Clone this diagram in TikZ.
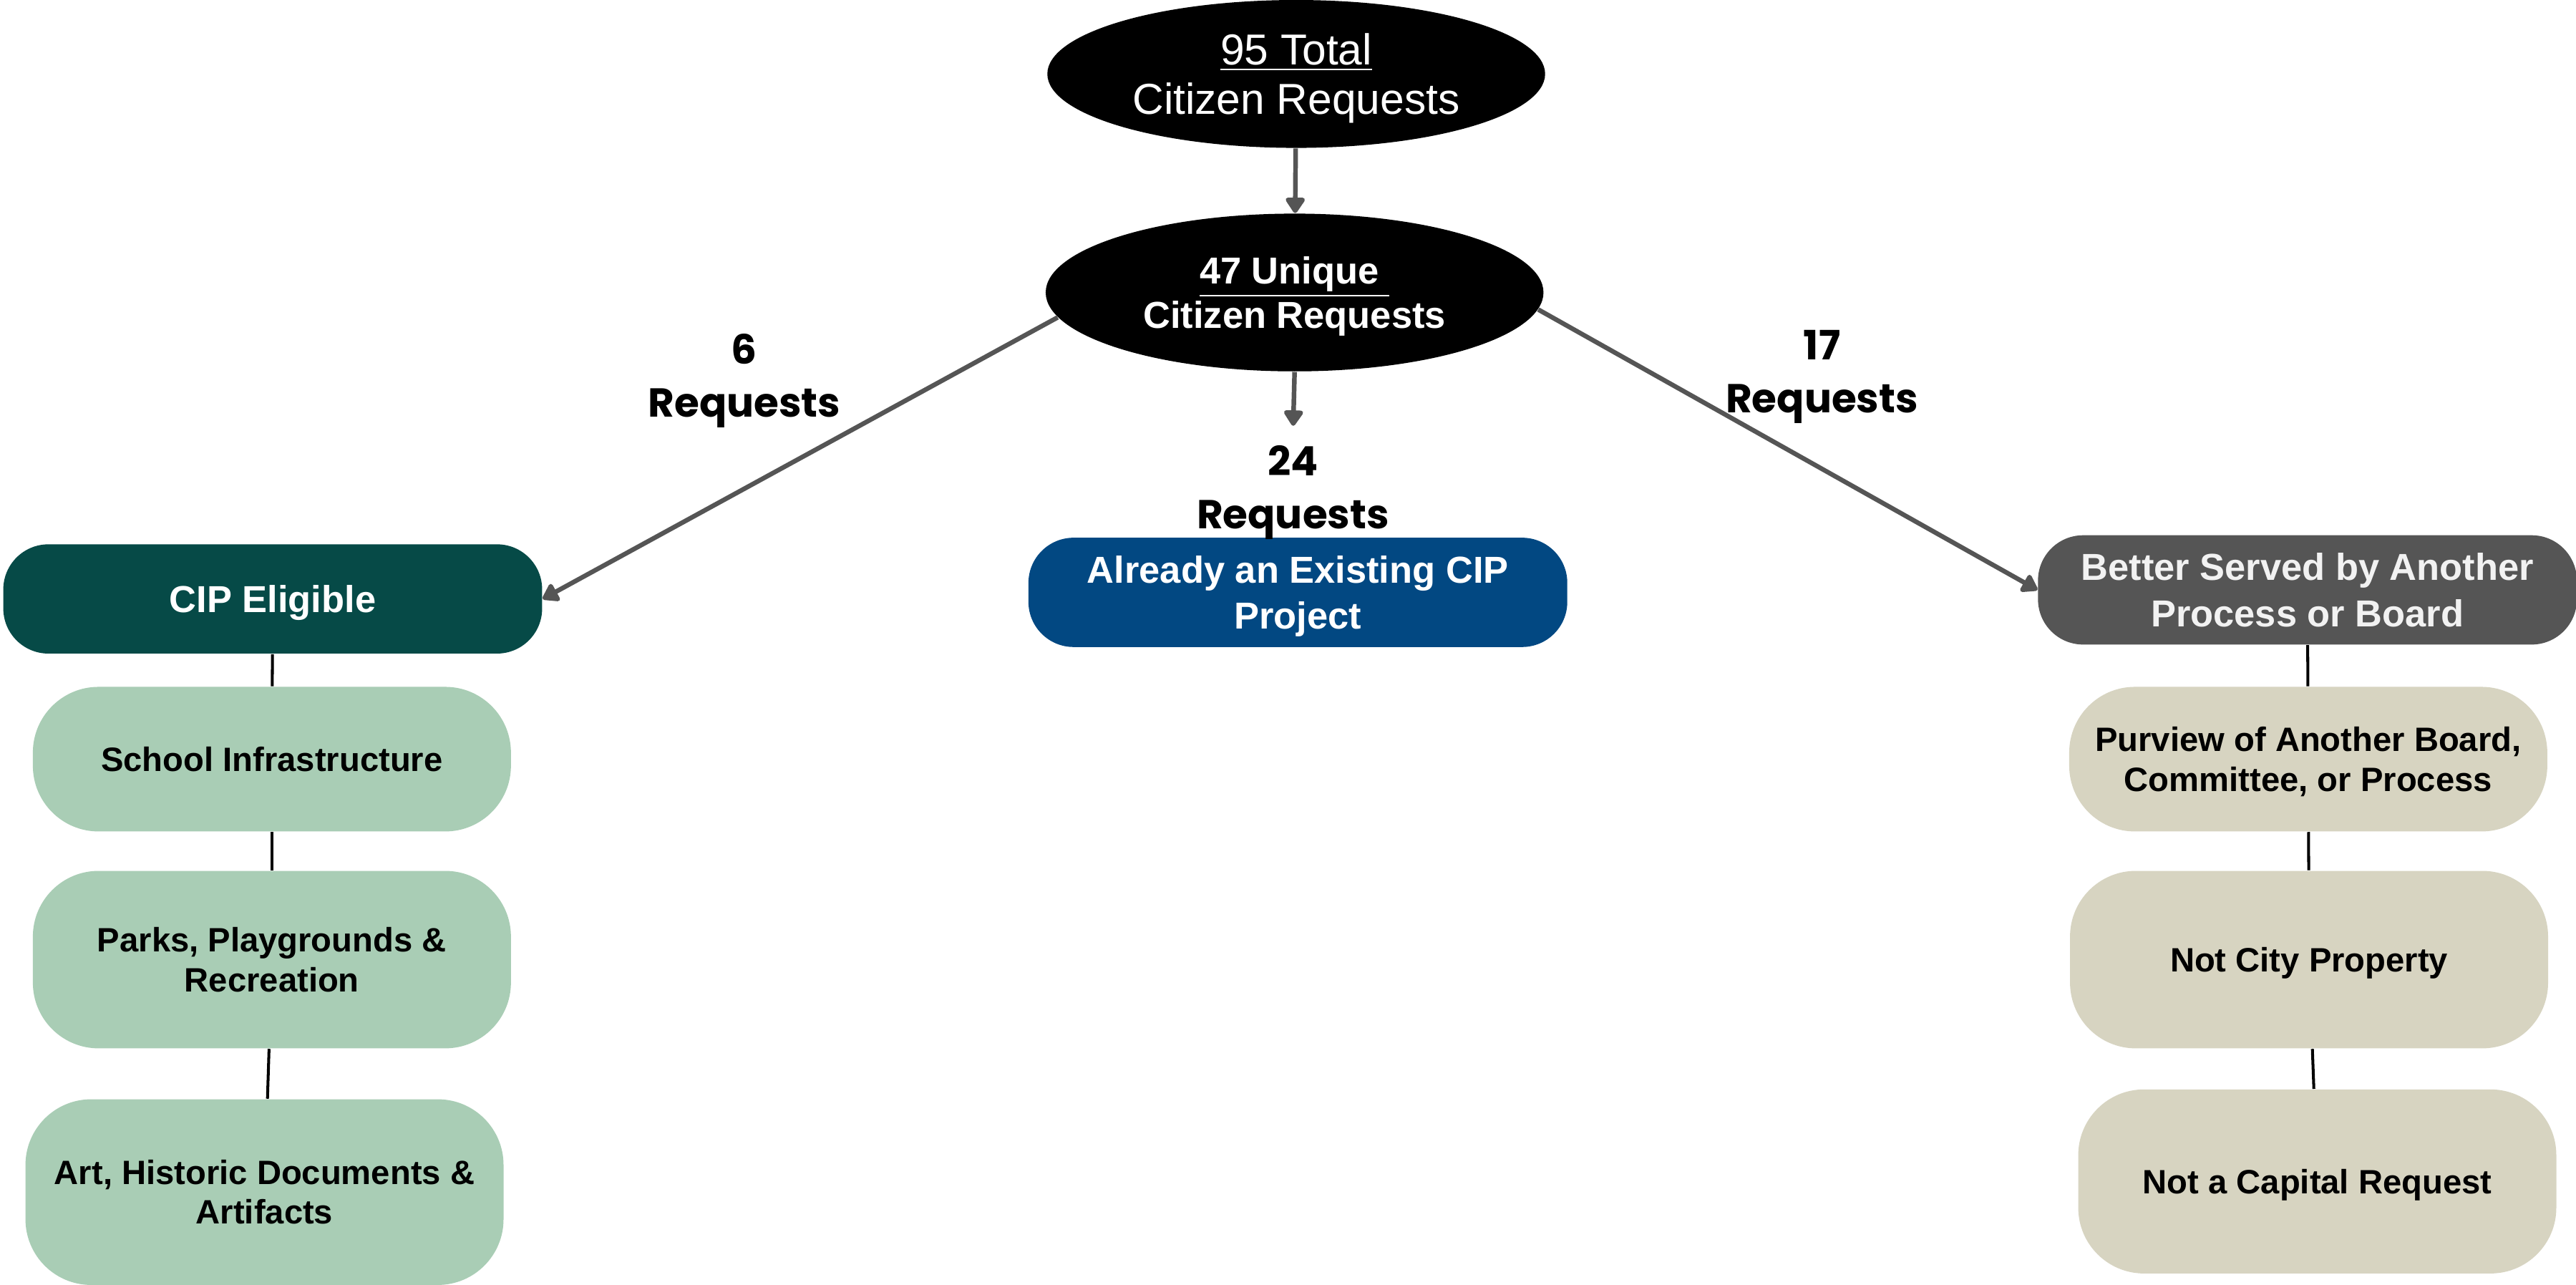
\documentclass[tikz,border=0pt]{standalone}
\usepackage{fontspec}
\setmainfont{Liberation Sans}
\newfontfamily\popfont{Poppins}
\usepackage{tikz}
\usetikzlibrary{arrows.meta,shapes.geometric}

\definecolor{cipteal}{HTML}{064A47}
\definecolor{cipmint}{HTML}{A9CDB5}
\definecolor{cipblue}{HTML}{024882}
\definecolor{otherdark}{HTML}{555555}
\definecolor{otherbeige}{HTML}{D7D4C1}
\definecolor{arrowgray}{HTML}{555555}

\tikzset{
  hub/.style={ellipse, fill=black, text=white, inner sep=0pt, align=center,
    text depth=0pt, minimum width=6.06cm},
  headbox/.style={rectangle, rounded corners=0.55cm, inner sep=0pt, align=center,
    text depth=0pt, minimum width=6.56cm, minimum height=1.33cm,
    font=\fontsize{13}{16}\selectfont\bfseries},
  subbox/.style={rectangle, rounded corners=0.8cm, inner sep=0pt, align=center,
    text depth=0pt, minimum width=5.82cm, font=\fontsize{11.7}{13.7}\selectfont\bfseries},
  countlbl/.style={align=center, text depth=0pt,
    font=\popfont\fontsize{14}{18.2}\selectfont\bfseries},
  flow/.style={draw=arrowgray, line width=1.6pt,
    -{Triangle[length=6pt,width=7.5pt,round]}},
  link/.style={draw=black, line width=1pt},
}

\begin{document}
\begin{tikzpicture}
    \useasboundingbox (0,0) rectangle (31.36,-15.64);
    %% top of the funnel
    \node[hub, minimum height=1.8cm, font=\fontsize{15}{17}\selectfont]
      (tot) at (15.78,-0.9) {\underline{95 Total}\\Citizen Requests};
    \node[hub, minimum height=1.92cm, font=\fontsize{13}{15.4}\selectfont\bfseries]
      (uniq) at (15.76,-3.56) {\underline{47 Unique\ }\\Citizen Requests};
    \draw[flow] (tot) -- (uniq);

    %% three outcomes
    \node[headbox, fill=cipteal, text=white] (cip) at (3.32,-7.29) {CIP Eligible};
    \node[headbox, fill=cipblue, text=white] (exist) at (15.8,-7.21)
      {Already an Existing CIP\\Project};
    \node[headbox, fill=otherdark, text=white!95!black] (better) at (28.09,-7.18)
      {Better Served by Another\\Process or Board};

    \node[countlbl] (n6) at (9.06,-4.57) {6\\Requests};
    \node[countlbl] (n24) at (15.74,-5.93) {24\\Requests};
    \node[countlbl] (n17) at (22.18,-4.52) {17\\Requests};

    \draw[flow] (uniq.186) -- (cip.east);
    \draw[flow] (uniq.356) -- (better.west);
    \draw[flow, shorten >=0.12cm] (uniq.south) -- (n24.north);

    %% eligible categories
    \node[subbox, fill=cipmint, minimum height=1.76cm] (school) at (3.31,-9.24)
      {School Infrastructure};
    \node[subbox, fill=cipmint, minimum height=2.16cm] (parks) at (3.31,-11.68)
      {Parks, Playgrounds \&\\Recreation};
    \node[subbox, fill=cipmint, minimum height=2.26cm] (art) at (3.22,-14.51)
      {Art, Historic Documents \&\\Artifacts};
    \draw[link] (cip) -- (school);
    \draw[link] (school) -- (parks);
    \draw[link] (parks) -- (art);

    %% other routes
    \node[subbox, fill=otherbeige, minimum height=1.76cm] (purview) at (28.1,-9.24)
      {Purview of Another Board,\\Committee, or Process};
    \node[subbox, fill=otherbeige, minimum height=2.16cm] (notcity) at (28.11,-11.68)
      {Not City Property};
    \node[subbox, fill=otherbeige, minimum height=2.24cm] (notcap) at (28.21,-14.38)
      {Not a Capital Request};
    \draw[link] (better) -- (purview);
    \draw[link] (purview) -- (notcity);
    \draw[link] (notcity) -- (notcap);
\end{tikzpicture}
\end{document}
